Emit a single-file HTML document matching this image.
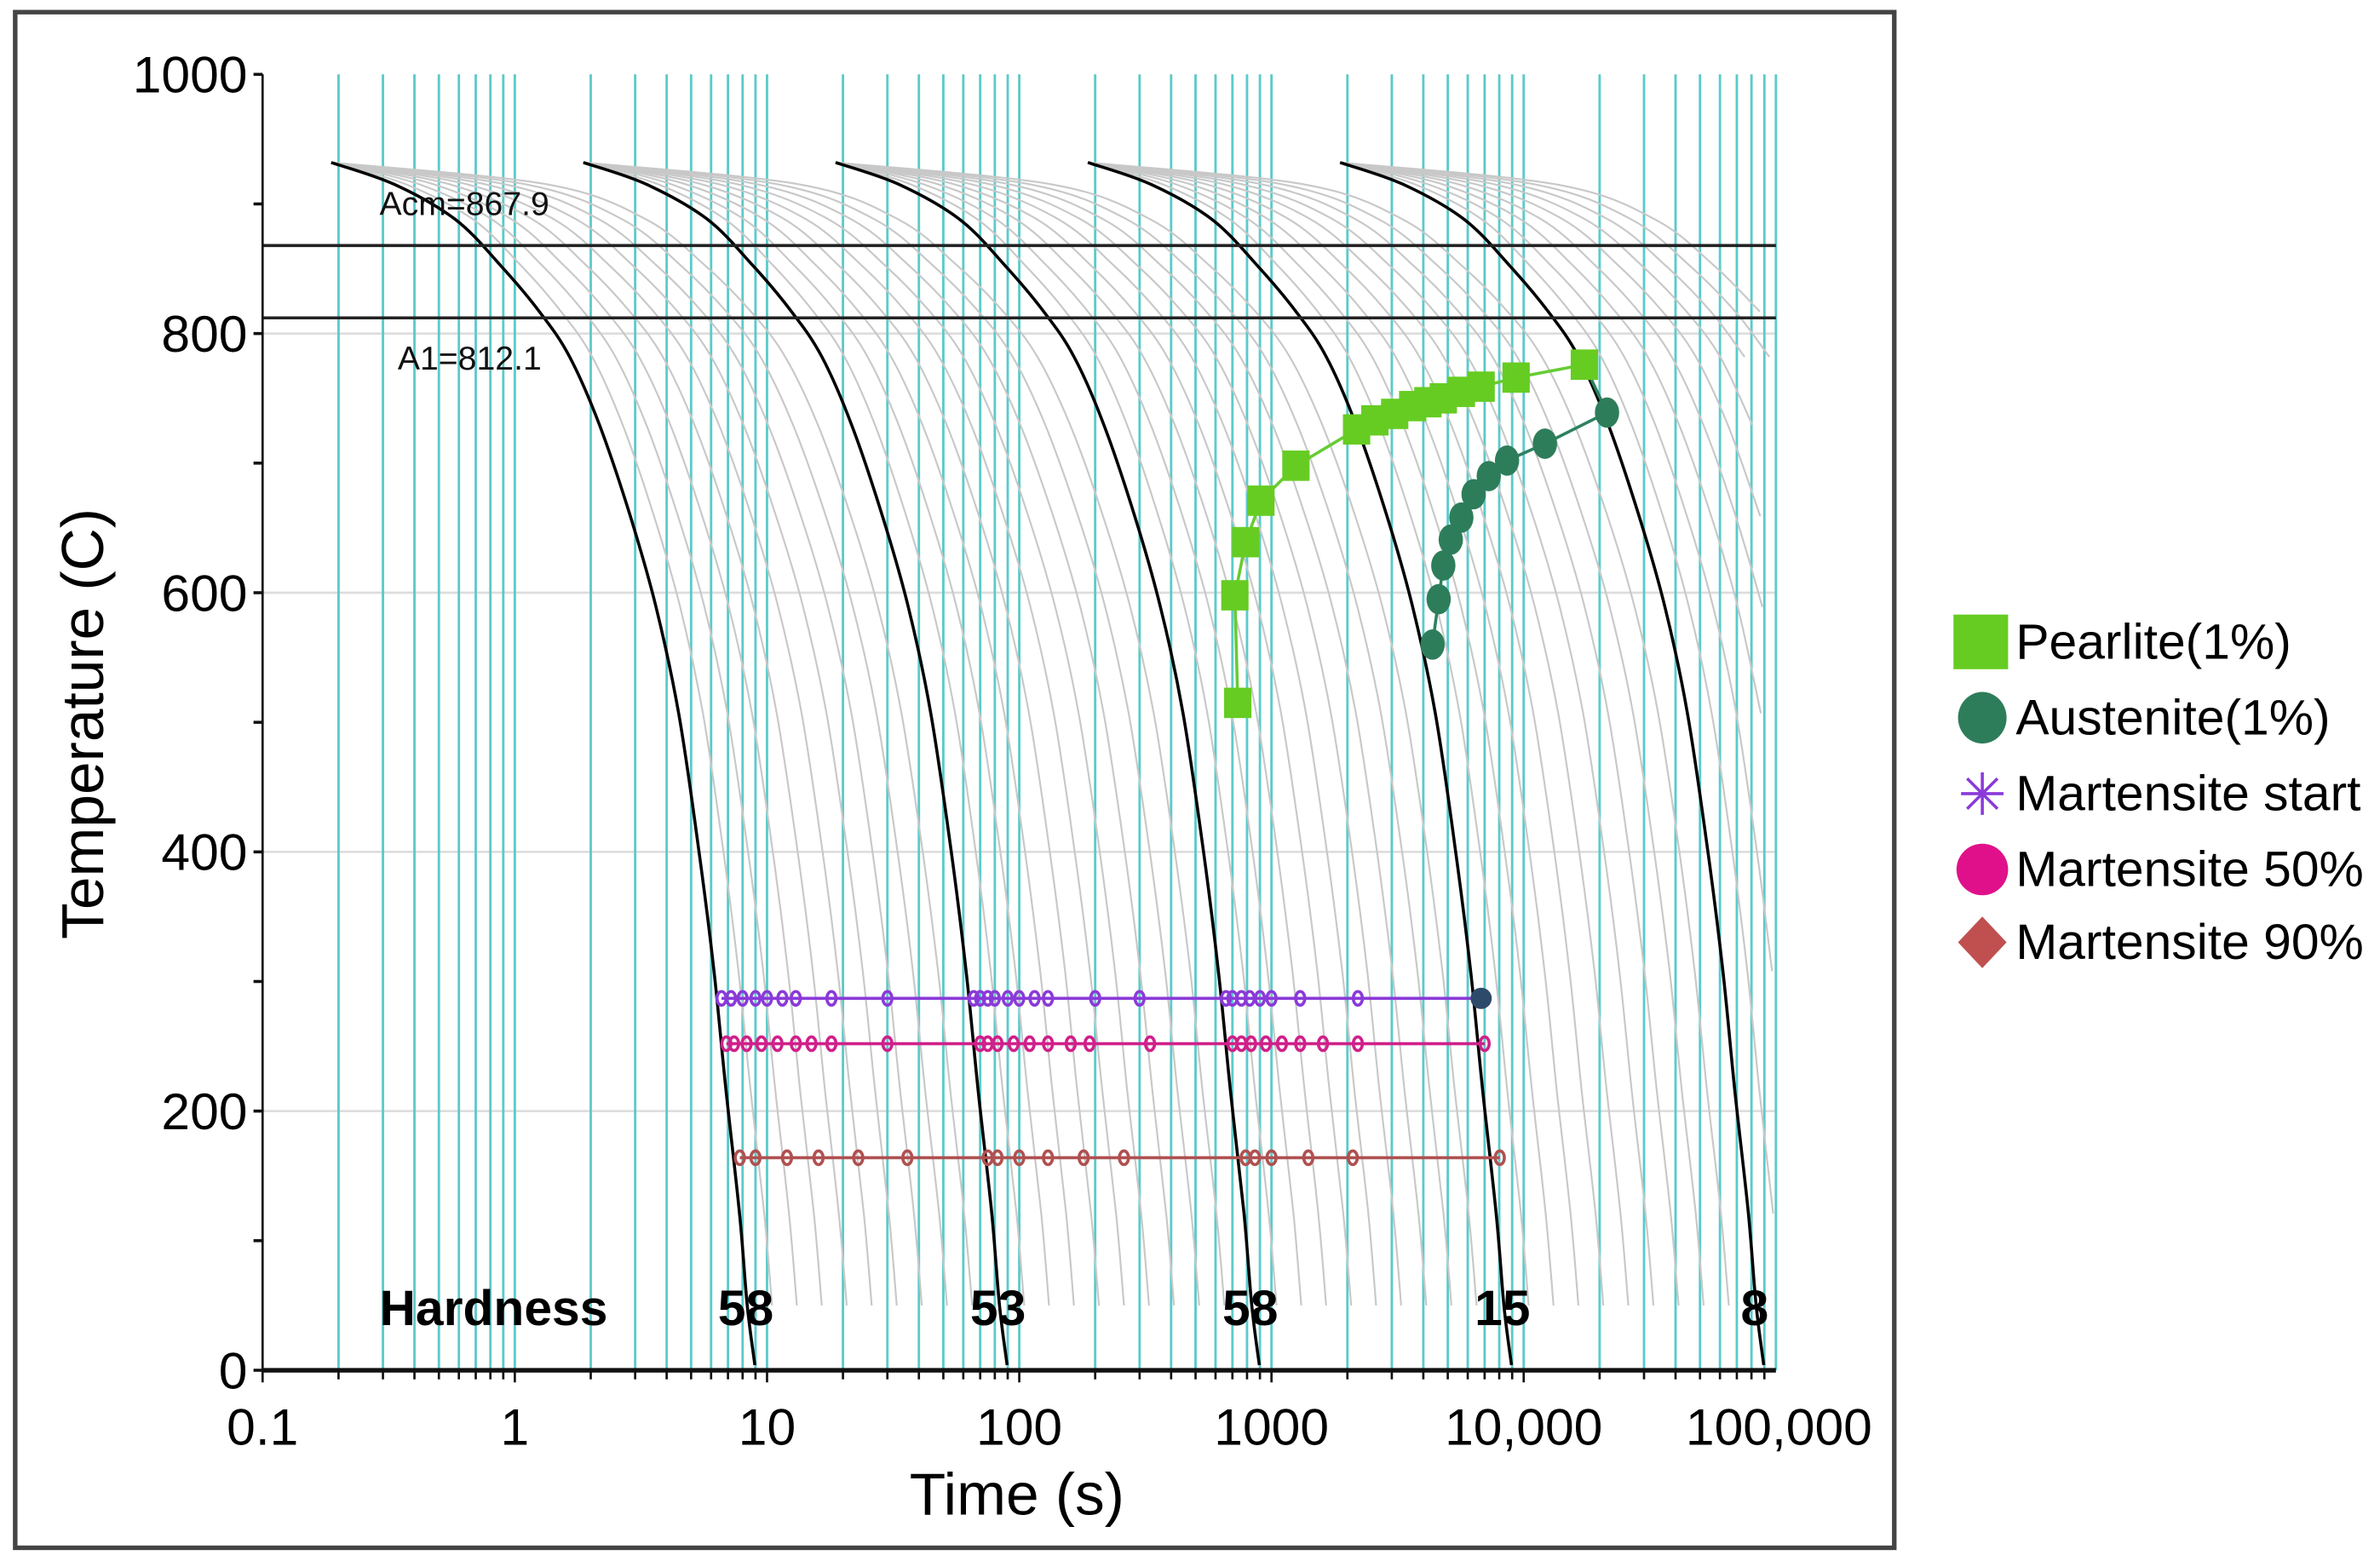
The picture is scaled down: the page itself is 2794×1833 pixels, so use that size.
<!DOCTYPE html>
<html><head><meta charset="utf-8"><style>
html,body{margin:0;padding:0;background:#fff;}
svg{display:block;}
text{font-family:"Liberation Sans",Arial,sans-serif;}
</style></head><body>
<svg id="chart" width="2794" height="1833" viewBox="0 0 1568 1028.7">
<rect x="10" y="8" width="1238" height="1012" fill="#fff" stroke="#444" stroke-width="3"/>
<g id="grid"></g>
<g id="curves"></g>
<g id="series"></g>
<g id="axes"></g>
<g id="legend"></g>
</svg>
<script>
// ---- data ----
const xTickLabels = ["0.1","1","10","100","1000","10,000","100,000"];
const xTickValues = [0.1,1,10,100,1000,10000,100000];
const yTickValues = [0,200,400,600,800,1000];
const baseCurveTime = [0.187,0.334,0.581,0.883,1.25,1.65,2.17,2.87,3.63,4.46,5.36,6.16,6.88,7.78,8.35,8.95];
const baseCurveTemp = [932,915,888,852,817,782,729,659,589,507,402,308,215,121,50,4];
const curveShift = [1,10,100,1000,10000];
const hardnessValues = ["58","53","58","15","8"];
const pearliteTime = [735,716,790,908,1250,2175,2570,3080,3630,4170,4800,5660,6780,9330,17400];
const pearliteTemp = [515,598,639,671,698,726,733,738,744,747,750,755,759,766,776];
const austeniteTime = [4350,4600,4800,5140,5660,6330,7270,8590,12140,21400];
const austeniteTemp = [560,595,621,641,658,676,690,702,715,739];
const msTemp = 287, m50Temp = 252, m90Temp = 164;
const msTimes = [6.6,7.2,8,9,10,11.5,13,18,30,66,70,75,80,90,100,115,130,200,300,660,700,760,820,900,1000,1300,2200,6780];
const m50Times = [6.9,7.4,8.3,9.5,11,13,15,18,30,70,75,82,95,110,130,160,190,330,700,760,830,950,1100,1300,1600,2200,7000];
const m90Times = [7.8,9,12,16,23,36,75,82,100,130,180,260,790,860,1000,1400,2100,8040];
const acm = 867.9, a1 = 812.1;
const legendLabels = ["Pearlite(1%)","Austenite(1%)","Martensite start","Martensite 50%","Martensite 90%"];

// ---- axes ----
const X0=173, DEC=166.17, Y0=903, YS=0.854;
function xs(t){return X0+DEC*Math.log10(t/0.1);}
function ys(T){return Y0-YS*T;}
const NS="http://www.w3.org/2000/svg";
function mk(tag,attrs,parent){const e=document.createElementNS(NS,tag);for(const k in attrs)e.setAttribute(k,attrs[k]);parent.appendChild(e);return e;}
function smoothPath(p){
  if(p.length<2)return '';
  let d='M'+p[0][0].toFixed(1)+','+p[0][1].toFixed(1);
  for(let i=0;i<p.length-1;i++){
    const p0=p[i-1]||p[i],p1=p[i],p2=p[i+1],p3=p[i+2]||p2;
    const c1x=p1[0]+(p2[0]-p0[0])/6,c1y=p1[1]+(p2[1]-p0[1])/6;
    const c2x=p2[0]-(p3[0]-p1[0])/6,c2y=p2[1]-(p3[1]-p1[1])/6;
    d+=' C'+c1x.toFixed(1)+','+c1y.toFixed(1)+' '+c2x.toFixed(1)+','+c2y.toFixed(1)+' '+p2[0].toFixed(1)+','+p2[1].toFixed(1);
  }
  return d;
}
const grid=document.getElementById('grid'),curves=document.getElementById('curves'),series=document.getElementById('series'),axes=document.getElementById('axes'),legend=document.getElementById('legend');

[200,400,600,800].forEach(v=>{
  const l=mk('line',{x1:X0,x2:xs(100000),y1:ys(v),y2:ys(v),stroke:'#ddd','stroke-width':1.5},grid);
  
  
});
for(let d=-1;d<5;d++){for(let m=1;m<=9;m++){const t=m*Math.pow(10,d);if(t<=0.1)continue;
  const l=mk('line',{x1:xs(t),x2:xs(t),y1:ys(1000),y2:ys(0),stroke:'#5ccaca','stroke-width':1.6},grid);
  
  
}}
{const l=mk('line',{x1:xs(100000),x2:xs(100000),y1:ys(1000),y2:ys(0),stroke:'#5ccaca','stroke-width':1.6},grid);

}

curveShift.forEach((s,i)=>{
  const ts=baseCurveTime[0]*s;
  for(let k=9;k>=1;k--){
    const f=Math.pow(10,k/10);
    let pts=[];
    for(let j=0;j<baseCurveTime.length;j++){
      const T=baseCurveTemp[j]; if(T<30)continue;
      const t=ts+(baseCurveTime[j]*s-ts)*f;
      if(t>100000)break;
      pts.push([xs(t),ys(T)]);
    }
    const p=mk('path',{d:smoothPath(pts),fill:'none',stroke:'#c8c8c8','stroke-width':1.2},curves);
    
    
  }
});
curveShift.forEach((s,i)=>{
  const pts=baseCurveTime.map((t,j)=>[xs(t*s),ys(baseCurveTemp[j])]);
  const p=mk('path',{d:smoothPath(pts),fill:'none',stroke:'#000','stroke-width':2},curves);
  
  
  const ht=mk('text',{x:xs(baseCurveTime[baseCurveTime.length-1]*s)-6,y:ys(50)+13,'font-size':33,'font-weight':'bold','text-anchor':'middle'},curves);
  ht.textContent=hardnessValues[i];
  
  
});
{const t=mk('text',{x:250,y:ys(50)+13,'font-size':33,'font-weight':'bold'},curves);t.textContent='Hardness';

}

[[acm,'Acm=867.9',-20,250],[a1,'A1=812.1',34,262]].forEach(([v,lab,dy,lx])=>{
  const l=mk('line',{x1:X0,x2:xs(100000),y1:ys(v),y2:ys(v),stroke:'#222','stroke-width':2},series);
  
  
  const t=mk('text',{x:lx,y:ys(v)+dy,'font-size':22,fill:'#111'},series);t.textContent=lab;
  
  
});

function mline(T,times,color,name){
  const l=mk('line',{x1:xs(times[0]),x2:xs(times[times.length-1]),y1:ys(T),y2:ys(T),stroke:color,'stroke-width':2},series);
  
  
  times.forEach(t=>{const c=mk('ellipse',{cx:xs(t),cy:ys(T),rx:3,ry:4.5,fill:'none',stroke:color,'stroke-width':2},series);
    
    });
}
mline(msTemp,msTimes,'#8a3ad8','martensite-start');
mline(m50Temp,m50Times,'#d0208a','martensite-50');
mline(m90Temp,m90Times,'#b05050','martensite-90');
{const c=mk('circle',{cx:xs(6780),cy:ys(msTemp),r:7,fill:'#2e4a6a'},series);}

{const pts=austeniteTime.map((t,i)=>xs(t)+','+ys(austeniteTemp[i]));
 pts.push(xs(pearliteTime[pearliteTime.length-1])+','+ys(pearliteTemp[pearliteTemp.length-1]));
 const p=mk('polyline',{points:pts.join(' '),fill:'none',stroke:'#2e8060','stroke-width':2},series);
 
 
 austeniteTime.forEach((t,i)=>{const c=mk('ellipse',{cx:xs(t),cy:ys(austeniteTemp[i]),rx:8,ry:10,fill:'#2e7d5a'},series);
  
  });}
{const pts=pearliteTime.map((t,i)=>xs(t)+','+ys(pearliteTemp[i]));
 const p=mk('polyline',{points:pts.join(' '),fill:'none',stroke:'#66cc33','stroke-width':2},series);
 
 
 pearliteTime.forEach((t,i)=>{const r=mk('rect',{x:xs(t)-9,y:ys(pearliteTemp[i])-10,width:18,height:20,fill:'#66cc22'},series);
  
  });}

{const l=mk('line',{x1:X0,x2:xs(100000),y1:Y0,y2:Y0,stroke:'#111','stroke-width':3},axes);
 const l2=mk('line',{x1:X0,x2:X0,y1:ys(1000),y2:Y0,stroke:'#111','stroke-width':1.5},axes);}
for(let d=-1;d<5;d++){for(let m=1;m<=9;m++){const t=m*Math.pow(10,d);
  const l=mk('line',{x1:xs(t),x2:xs(t),y1:Y0,y2:Y0+(m===1?8:6),stroke:'#111','stroke-width':1.5},axes);
  
  }}
xTickValues.forEach((v,i)=>{const t=mk('text',{x:xs(v)+(i===6?2:0),y:952,'font-size':34,'text-anchor':'middle'},axes);t.textContent=xTickLabels[i];
  
  });
for(let v=0;v<=1000;v+=100){const l=mk('line',{x1:X0-6,x2:X0,y1:ys(v),y2:ys(v),stroke:'#111','stroke-width':2},axes);
  
  }
yTickValues.forEach(v=>{const t=mk('text',{x:X0-10,y:ys(v)+12,'font-size':34,'text-anchor':'end'},axes);t.textContent=String(v);
  
  });
{const t=mk('text',{x:670,y:998,'font-size':39,'text-anchor':'middle'},axes);t.textContent='Time (s)';
 
 const t2=mk('text',{x:0,y:0,'font-size':39,'text-anchor':'middle',transform:'translate(68,477) rotate(-90)'},axes);t2.textContent='Temperature (C)';
 }

const LY=[423,473,523,573,621];
legendLabels.forEach((lab,i)=>{
  const y=LY[i];let m;
  if(i===0)m=mk('rect',{x:1287,y:y-18,width:36,height:36,fill:'#66cc22'},legend);
  else if(i===1)m=mk('ellipse',{cx:1306,cy:y,rx:16,ry:17,fill:'#2e7d5a'},legend);
  else if(i===2){m=mk('g',{stroke:'#8a3ad8','stroke-width':2},legend);
    mk('line',{x1:1292,x2:1320,y1:y,y2:y},m);mk('line',{x1:1306,x2:1306,y1:y-14,y2:y+14},m);
    mk('line',{x1:1296,x2:1316,y1:y-10,y2:y+10},m);mk('line',{x1:1296,x2:1316,y1:y+10,y2:y-10},m);}
  else if(i===3)m=mk('ellipse',{cx:1306,cy:y,rx:17,ry:17,fill:'#e0108a'},legend);
  else m=mk('polygon',{points:`1306,${y-17} 1322,${y} 1306,${y+17} 1290,${y}`,fill:'#c05050'},legend);
  
  
  const t=mk('text',{x:1328,y:y+11,'font-size':33},legend);t.textContent=lab;
  
  
});
</script>
</body></html>
